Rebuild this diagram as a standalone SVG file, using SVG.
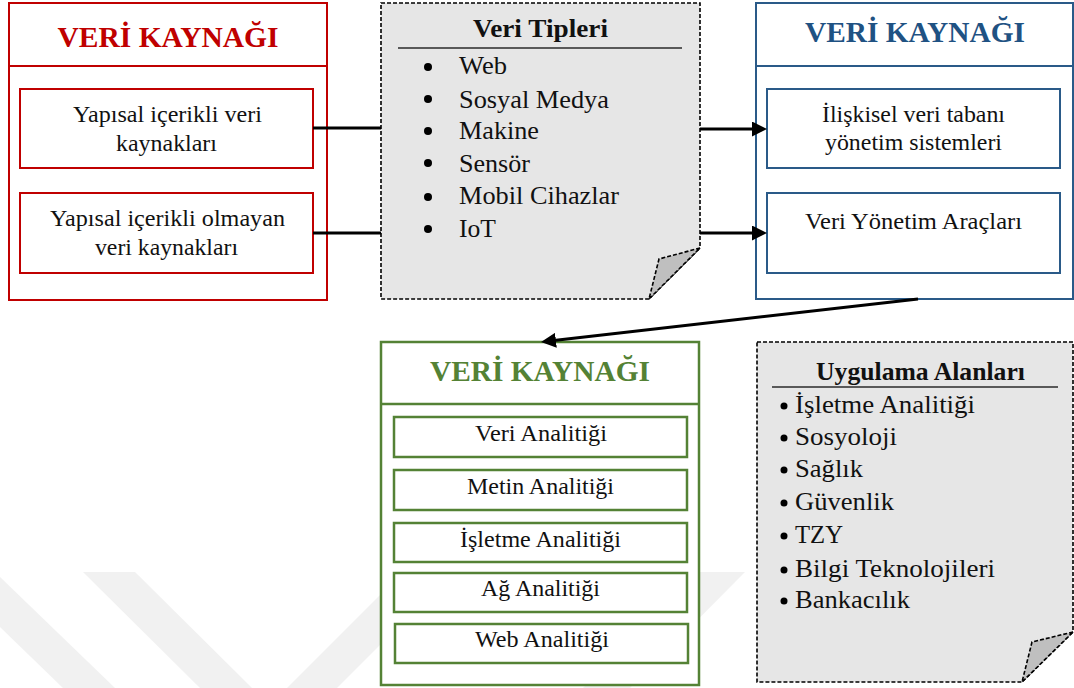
<svg xmlns="http://www.w3.org/2000/svg" width="1074" height="688" viewBox="0 0 1074 688">
  <defs>
    <marker id="arrowHead" viewBox="0 0 10 10" refX="7.33" refY="5" markerWidth="5" markerHeight="5" orient="auto" markerUnits="strokeWidth">
      <path d="M0,0 L10,5 L0,10 Z" fill="#000"/>
    </marker>
    <style>
      text { font-family: "Liberation Serif", "Times New Roman", serif; fill: #111; }
      .body { font-size: 24px; }
      .list { font-size: 25px; }
      .mid { text-anchor: middle; }
      .title { font-size: 30px; font-weight: bold; text-anchor: middle; }
      .docTitle { font-size: 26px; font-weight: bold; text-anchor: middle; }
      .red { stroke: #c00000; fill: #fff; stroke-width: 2; }
      .blue { stroke: #2a5a88; fill: #fff; stroke-width: 2; }
      .green { stroke: #548235; fill: #fff; stroke-width: 2.5; }
      .doc { fill: #e6e6e6; stroke: #000; stroke-width: 1.6; stroke-dasharray: 4 2; }
      .fold { fill: #bfbfbf; stroke: #000; stroke-width: 1.6; stroke-dasharray: 4 2; }
      .rule { stroke: #595959; stroke-width: 2; }
      .link { stroke: #000; stroke-width: 3; fill: none; }
      .wm { fill: #f1f1f1; }
    </style>
  </defs>

  <rect width="1074" height="688" fill="#fff"/>

  <!-- faint background emblem -->
  <g id="emblem">
    <polygon class="wm" points="0,577 115,688 63,688 0,627"/>
    <polygon class="wm" points="83,572 135,572 252,688 200,688"/>
    <polygon class="wm" points="287,688 337,688 453,572 403,572"/>
    <polygon class="wm" points="583,688 698,572 745,572 630,688"/>
  </g>

  <!-- source panel (red) -->
  <g id="sources">
    <rect class="red" x="9" y="3" width="318" height="297"/>
    <line x1="9" y1="66" x2="327" y2="66" stroke="#c00000" stroke-width="2"/>
    <text class="title" x="168" y="47" style="fill:#c00000" textLength="221" lengthAdjust="spacingAndGlyphs">VERİ KAYNAĞI</text>
    <rect class="red" x="20" y="89" width="293" height="79" stroke-width="2.5"/>
    <text class="body mid" x="167.5" y="122" textLength="189" lengthAdjust="spacingAndGlyphs">Yapısal içerikli veri</text>
    <text class="body mid" x="166.5" y="151" textLength="101" lengthAdjust="spacingAndGlyphs">kaynakları</text>
    <rect class="red" x="20" y="193" width="293" height="80" stroke-width="2.5"/>
    <text class="body mid" x="167.5" y="226" textLength="235" lengthAdjust="spacingAndGlyphs">Yapısal içerikli olmayan</text>
    <text class="body mid" x="166.5" y="255" textLength="143" lengthAdjust="spacingAndGlyphs">veri kaynakları</text>
  </g>

  <!-- data types note -->
  <g id="dataTypes">
    <path class="doc" d="M381,3 H700 V248 L649,299 H381 Z"/>
    <path class="fold" d="M700,248 L659,259 L649,299 Z"/>
    <text class="docTitle" x="540.5" y="37" textLength="135" lengthAdjust="spacingAndGlyphs">Veri Tipleri</text>
    <line class="rule" x1="398" y1="48" x2="682" y2="48"/>
    <g fill="#000">
      <circle cx="428" cy="67" r="4"/>
      <circle cx="428" cy="99" r="4"/>
      <circle cx="428" cy="131" r="4"/>
      <circle cx="428" cy="163" r="4"/>
      <circle cx="428" cy="197" r="4"/>
      <circle cx="428" cy="229" r="4"/>
    </g>
    <text class="list" x="459" y="74" textLength="48" lengthAdjust="spacingAndGlyphs">Web</text>
    <text class="list" x="459" y="108" textLength="150" lengthAdjust="spacingAndGlyphs">Sosyal Medya</text>
    <text class="list" x="459" y="139" textLength="80" lengthAdjust="spacingAndGlyphs">Makine</text>
    <text class="list" x="459" y="172" textLength="71" lengthAdjust="spacingAndGlyphs">Sensör</text>
    <text class="list" x="459" y="204" textLength="160" lengthAdjust="spacingAndGlyphs">Mobil Cihazlar</text>
    <text class="list" x="459" y="237" textLength="37" lengthAdjust="spacingAndGlyphs">IoT</text>
  </g>

  <!-- management panel (blue) -->
  <g id="management">
    <rect class="blue" x="756" y="3" width="317" height="296"/>
    <line x1="756" y1="66" x2="1073" y2="66" stroke="#2a5a88" stroke-width="2"/>
    <text class="title" x="915" y="42" style="fill:#1f5283" textLength="220" lengthAdjust="spacingAndGlyphs">VERİ KAYNAĞI</text>
    <rect class="blue" x="767" y="89" width="293" height="79" stroke-width="2.5"/>
    <text class="body mid" x="913.5" y="122" textLength="183" lengthAdjust="spacingAndGlyphs">İlişkisel veri tabanı</text>
    <text class="body mid" x="913.5" y="150" textLength="177" lengthAdjust="spacingAndGlyphs">yönetim sistemleri</text>
    <rect class="blue" x="767" y="193" width="293" height="80" stroke-width="2.5"/>
    <text class="body mid" x="913.5" y="229" textLength="217" lengthAdjust="spacingAndGlyphs">Veri Yönetim Araçları</text>
  </g>

  <!-- analytics panel (green) -->
  <g id="analytics">
    <rect class="green" x="381" y="342" width="318" height="343"/>
    <line x1="381" y1="404" x2="699" y2="404" stroke="#548235" stroke-width="2.5"/>
    <text class="title" x="540" y="381" style="fill:#548235" textLength="220" lengthAdjust="spacingAndGlyphs">VERİ KAYNAĞI</text>
    <rect class="green" x="394" y="417" width="293" height="40"/>
    <text class="body mid" x="541" y="441" textLength="132" lengthAdjust="spacingAndGlyphs">Veri Analitiği</text>
    <rect class="green" x="394" y="470" width="293" height="40"/>
    <text class="body mid" x="540.5" y="494" textLength="147" lengthAdjust="spacingAndGlyphs">Metin Analitiği</text>
    <rect class="green" x="394" y="523" width="293" height="39"/>
    <text class="body mid" x="540.5" y="547" textLength="161" lengthAdjust="spacingAndGlyphs">İşletme Analitiği</text>
    <rect class="green" x="394" y="573" width="293" height="39"/>
    <text class="body mid" x="540.5" y="596" textLength="119" lengthAdjust="spacingAndGlyphs">Ağ Analitiği</text>
    <rect class="green" x="395" y="624" width="293" height="39"/>
    <text class="body mid" x="542" y="647" textLength="134" lengthAdjust="spacingAndGlyphs">Web Analitiği</text>
  </g>

  <!-- application areas note -->
  <g id="applications">
    <path class="doc" d="M757,342 H1073 V632 L1022,682 H757 Z"/>
    <path class="fold" d="M1073,632 L1032,642 L1022,682 Z"/>
    <text class="docTitle" x="920.5" y="380" textLength="209" lengthAdjust="spacingAndGlyphs">Uygulama Alanları</text>
    <line class="rule" x1="772" y1="387" x2="1058" y2="387"/>
    <g fill="#000">
      <circle cx="784" cy="406" r="3.5"/>
      <circle cx="784" cy="438" r="3.5"/>
      <circle cx="784" cy="470" r="3.5"/>
      <circle cx="784" cy="503" r="3.5"/>
      <circle cx="784" cy="536" r="3.5"/>
      <circle cx="784" cy="570" r="3.5"/>
      <circle cx="784" cy="601" r="3.5"/>
    </g>
    <text class="list" x="795" y="413" textLength="180" lengthAdjust="spacingAndGlyphs">İşletme Analitiği</text>
    <text class="list" x="795" y="445" textLength="102" lengthAdjust="spacingAndGlyphs">Sosyoloji</text>
    <text class="list" x="795" y="477" textLength="68" lengthAdjust="spacingAndGlyphs">Sağlık</text>
    <text class="list" x="795" y="510" textLength="99" lengthAdjust="spacingAndGlyphs">Güvenlik</text>
    <text class="list" x="795" y="543" textLength="48" lengthAdjust="spacingAndGlyphs">TZY</text>
    <text class="list" x="795" y="577" textLength="200" lengthAdjust="spacingAndGlyphs">Bilgi Teknolojileri</text>
    <text class="list" x="795" y="608" textLength="115" lengthAdjust="spacingAndGlyphs">Bankacılık</text>
  </g>

  <!-- connectors -->
  <g id="connectors">
    <line class="link" x1="313" y1="128" x2="381" y2="128"/>
    <line class="link" x1="313" y1="233" x2="381" y2="233"/>
    <line class="link" x1="700" y1="129" x2="763" y2="129" marker-end="url(#arrowHead)"/>
    <line class="link" x1="700" y1="233" x2="763" y2="233" marker-end="url(#arrowHead)"/>
    <line class="link" x1="918" y1="299" x2="545" y2="341.5" marker-end="url(#arrowHead)"/>
  </g>
</svg>
